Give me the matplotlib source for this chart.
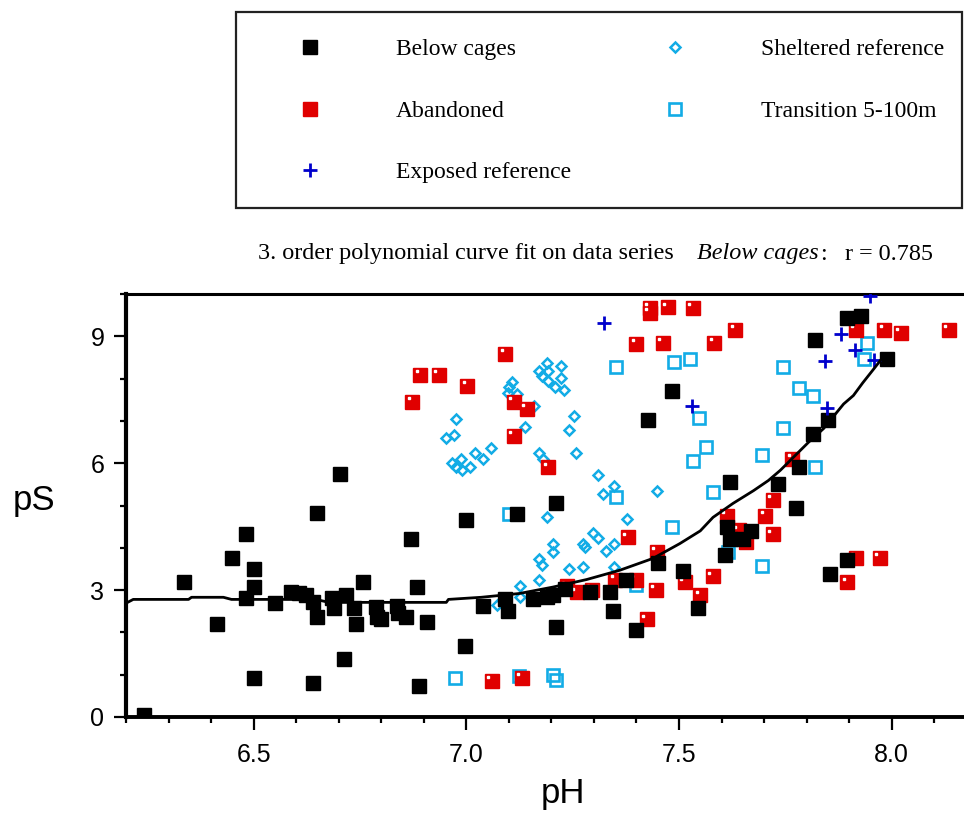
import matplotlib
matplotlib.use("Agg")
import matplotlib.pyplot as plt
import matplotlib.transforms as mtransforms
from matplotlib.patches import Rectangle
from matplotlib.ticker import MultipleLocator

# ---- data ----
below_ph = [6.243, 6.337, 6.413, 6.45, 6.481, 6.481, 6.5, 6.5, 6.5, 6.55,
            6.587, 6.606, 6.623, 6.64, 6.65, 6.65, 6.64, 6.684, 6.689, 6.703,
            6.717, 6.712, 6.736, 6.74, 6.757, 6.788, 6.79, 6.8, 6.837, 6.84,
            6.858, 6.87, 6.884, 6.889, 6.908, 6.998, 7.0, 7.04, 7.09, 7.097,
            7.12, 7.156, 7.19, 7.203, 7.21, 7.212, 7.231, 7.29, 7.337, 7.344,
            7.375, 7.4, 7.427, 7.45, 7.483, 7.51, 7.545, 7.608, 7.613, 7.62,
            7.62, 7.65, 7.67, 7.733, 7.776, 7.783, 7.816, 7.82, 7.851, 7.854,
            7.896, 7.896, 7.927, 7.99]
below_ps = [0.05, 3.18, 2.19, 3.75, 4.32, 2.81, 3.51, 3.07, 0.92, 2.69,
            2.95, 2.92, 2.88, 2.71, 2.36, 4.83, 0.8, 2.81, 2.57, 5.75,
            2.88, 1.37, 2.57, 2.19, 3.18, 2.6, 2.36, 2.31, 2.62, 2.45,
            2.36, 4.2, 3.07, 0.73, 2.24, 1.67, 4.65, 2.62, 2.8, 2.5,
            4.8, 2.8, 2.83, 2.88, 5.05, 2.12, 3.02, 2.95, 2.95, 2.5,
            3.25, 2.05, 7.03, 3.63, 7.71, 3.44, 2.57, 3.82, 4.5, 4.2,
            5.56, 4.2, 4.39, 5.52, 4.95, 5.9, 6.7, 8.92, 7.03, 3.37,
            3.7, 9.43, 9.48, 8.47]

aband_ph = [6.873, 6.892, 6.936, 7.002, 7.092, 7.111, 7.142, 7.111, 7.193, 7.06,
            7.13, 7.236, 7.26, 7.295, 7.35, 7.38, 7.399, 7.4, 7.425, 7.432,
            7.432, 7.446, 7.448, 7.462, 7.474, 7.514, 7.533, 7.55, 7.58, 7.583,
            7.613, 7.632, 7.64, 7.658, 7.703, 7.72, 7.72, 7.766, 7.896, 7.915,
            7.915, 7.972, 7.983, 8.021, 8.134]
aband_ps = [7.45, 8.09, 8.09, 7.83, 8.58, 7.45, 7.29, 6.65, 5.9, 0.85,
            0.92, 3.09, 2.95, 3.0, 3.25, 4.25, 3.25, 8.82, 2.31, 9.67,
            9.55, 3.0, 3.9, 8.84, 9.69, 3.18, 9.67, 2.88, 3.33, 8.84,
            4.76, 9.15, 4.41, 4.13, 4.76, 5.14, 4.32, 6.1, 3.18, 3.77,
            9.15, 3.77, 9.15, 9.08, 9.15]

exposed_ph = [7.323, 7.531, 7.844, 7.849, 7.882, 7.913, 7.95, 7.958]
exposed_ps = [9.32, 7.36, 8.42, 7.31, 9.06, 8.68, 9.95, 8.44]

shelter_ph = [6.953, 6.972, 6.976, 6.967, 6.976, 6.988, 6.991, 7.009, 7.021, 7.04,
              7.059, 7.071, 7.097, 7.1, 7.108, 7.12, 7.127, 7.127, 7.139, 7.16,
              7.17, 7.18, 7.17, 7.177, 7.189, 7.191, 7.191, 7.208, 7.222, 7.222,
              7.229, 7.252, 7.241, 7.259, 7.189, 7.203, 7.203, 7.17, 7.179, 7.17,
              7.241, 7.274, 7.274, 7.278, 7.297, 7.309, 7.309, 7.321, 7.328, 7.347,
              7.347, 7.347, 7.377, 7.448]
shelter_ps = [6.6, 6.67, 7.05, 6.01, 5.9, 6.11, 5.85, 5.9, 6.23, 6.11,
              6.37, 2.64, 7.67, 7.8, 7.92, 7.64, 3.09, 2.83, 6.86, 7.36,
              6.25, 6.11, 8.18, 8.07, 8.37, 8.18, 7.95, 7.8, 8.3, 8.02,
              7.74, 7.12, 6.79, 6.23, 4.72, 4.1, 3.89, 3.73, 3.6, 3.23,
              3.49, 3.54, 4.1, 4.01, 4.34, 4.22, 5.73, 5.28, 3.92, 5.47,
              4.1, 3.54, 4.67, 5.35]

trans_ph = [6.974, 7.101, 7.123, 7.203, 7.212, 7.351, 7.351, 7.4, 7.483, 7.488,
            7.526, 7.533, 7.547, 7.564, 7.58, 7.615, 7.696, 7.696, 7.745, 7.745,
            7.783, 7.816, 7.82, 7.934, 7.941]
trans_ps = [0.92, 4.81, 0.97, 0.99, 0.87, 8.28, 5.19, 3.11, 4.5, 8.4,
            8.47, 6.06, 7.08, 6.39, 5.31, 3.89, 6.2, 3.56, 8.28, 6.84,
            7.78, 7.6, 5.9, 8.47, 8.84]

# fitted curve (Below cages)
fit_ph = [6.2, 6.217, 6.347, 6.354, 6.429, 6.448, 6.646, 6.677, 6.953, 6.958,
          7.035, 7.125, 7.203, 7.283, 7.361, 7.439, 7.502, 7.55, 7.58, 7.627,
          7.675, 7.71, 7.738, 7.804, 7.84, 7.887, 7.91, 7.932, 7.958, 7.979]
fit_ps = [2.69, 2.78, 2.78, 2.83, 2.83, 2.78, 2.78, 2.71, 2.71, 2.78,
          2.83, 2.92, 3.07, 3.25, 3.47, 3.75, 4.1, 4.4, 4.72, 5.05,
          5.35, 5.59, 5.83, 6.49, 6.82, 7.4, 7.6, 7.9, 8.23, 8.5]

RED = "#e00000"
CYAN = "#12ace6"
BLUE = "#0000cc"
SANS = "Liberation Sans"
SERIF = "Liberation Serif"

fig = plt.figure(figsize=(9.64, 8.18), dpi=100)
ax = fig.add_axes([126 / 964, 1 - 717 / 818, 1 - 126 / 964, (717 - 294) / 818])

ax.plot(trans_ph, trans_ps, ls="none", marker="s", ms=8.4, mfc="none",
        mec=CYAN, mew=1.9, label="Transition 5-100m", zorder=3)
ax.plot(shelter_ph, shelter_ps, ls="none", marker="D", ms=5.5, mfc="none",
        mec=CYAN, mew=1.8, label="Sheltered reference", zorder=3)
ax.plot(aband_ph, aband_ps, ls="none", marker="s", ms=9.6, color=RED,
        label="Abandoned", zorder=4)
# little white glint in the corner of the red squares
glint = mtransforms.offset_copy(ax.transData, fig=fig, x=-2.6, y=2.6, units="points")
ax.plot(aband_ph, aband_ps, ls="none", marker="s", ms=2.0, color="white",
        transform=glint, zorder=4)
ax.plot(below_ph, below_ps, ls="none", marker="s", ms=9.6, color="black",
        label="Below cages", zorder=5)
ax.plot(exposed_ph, exposed_ps, ls="none", marker="+", ms=9.6, mew=2.0,
        color=BLUE, label="Exposed reference", zorder=6)
ax.plot(fit_ph, fit_ps, color="black", lw=2.0, zorder=7)

ax.set_xlim(6.2, 8.17)
ax.set_ylim(0, 10)
ax.xaxis.set_minor_locator(MultipleLocator(0.1))
ax.yaxis.set_minor_locator(MultipleLocator(1))
ax.set_xticks([6.5, 7.0, 7.5, 8.0])
ax.set_xticklabels(["6.5", "7.0", "7.5", "8.0"])
ax.set_yticks([0, 3, 6, 9])
ax.set_yticklabels(["0", "3", "6", "9"])

ax.spines["right"].set_visible(False)
ax.spines["left"].set_linewidth(3.0)
ax.spines["bottom"].set_linewidth(2.8)
ax.spines["top"].set_linewidth(2.2)
ax.tick_params(axis="x", which="major", direction="out", length=9.4, width=1.6,
               pad=9, labelsize=18)
ax.tick_params(axis="x", which="minor", direction="out", length=4.3, width=1.6)
ax.tick_params(axis="y", which="major", direction="out", length=8.6, width=1.6,
               pad=7, labelsize=18)
ax.tick_params(axis="y", which="minor", direction="out", length=4.0, width=1.6)
for lab in ax.get_xticklabels() + ax.get_yticklabels():
    lab.set_fontfamily(SANS)

ax.set_xlabel("pH", fontsize=25, fontfamily=SANS, va="top")
ax.set_ylabel("pS", fontsize=25, fontfamily=SANS, rotation=0,
              va="center", ha="center")
ax.xaxis.set_label_coords(0.5215, -0.142)
ax.yaxis.set_label_coords(-0.11, 0.513)

# title made of plain / italic / plain pieces
ty = 1 - 254 / 818
fig.text(258 / 964, ty, "3. order polynomial curve fit on data series",
         fontsize=17.4, fontfamily=SERIF, va="center")
fig.text(697 / 964, ty, "Below cages", fontsize=17.4, fontfamily=SERIF,
         style="italic", va="center")
fig.text(820 / 964, ty, ":", fontsize=17.4, fontfamily=SERIF, va="center")
fig.text(845 / 964, ty, "r = 0.785", fontsize=17.4, fontfamily=SERIF, va="center")

# legend box frame
fig.patches.append(Rectangle((236 / 964, 1 - 208 / 818), 726 / 964, 196 / 818,
                             transform=fig.transFigure, fill=False,
                             edgecolor="#222222", lw=1.6))

handles, labels = ax.get_legend_handles_labels()
order = ["Below cages", "Abandoned", "Exposed reference",
         "Sheltered reference", "Transition 5-100m"]
hmap = dict(zip(labels, handles))
leg = fig.legend([hmap[k] for k in order], order, ncol=2, mode="expand",
                 loc="upper left",
                 bbox_to_anchor=(236 / 964, 0.5, 726 / 964, 1 - 21 / 818 - 0.5),
                 bbox_transform=fig.transFigure, borderaxespad=0,
                 prop={"family": SERIF, "size": 17}, numpoints=1,
                 handlelength=4.75, handletextpad=1.27, borderpad=0.76,
                 labelspacing=1.69, frameon=False)

fig.savefig("out.png", dpi=100)
